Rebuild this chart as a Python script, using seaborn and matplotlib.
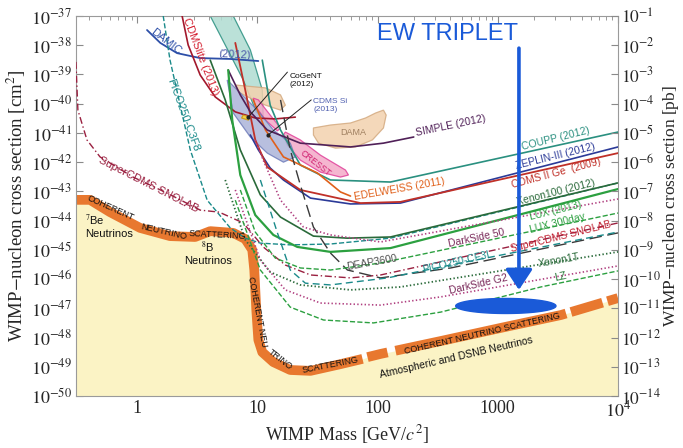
import numpy as np
import matplotlib
matplotlib.use("Agg")
import matplotlib.pyplot as plt
import seaborn as sns
from matplotlib.ticker import FixedLocator, NullLocator, LogLocator, NullFormatter

sns.set_style("ticks")
plt.rcParams['font.family'] = ['Liberation Serif', 'DejaVu Serif']
plt.rcParams['mathtext.fontset'] = 'stix'
plt.rcParams['lines.scale_dashes'] = False
SANS = ['Liberation Sans', 'DejaVu Sans']

# ---------------- data (mass in GeV, log10 of cross section in cm^2) ----------------
floor_mass = [0.31, 0.406, 0.596, 1.06, 1.88, 3.04, 4.06, 6.31, 7.94, 9.08, 9.44, 9.81, 10.2, 11.0,
              13.6, 18.8, 27.7, 49.2, 75.0, 82.5, 106, 335, 1060, 3350, 10000]
floor_logsig = [-43.29, -43.29, -43.71, -44.25, -44.53, -44.56, -44.36, -44.42, -44.63, -45.00, -45.69,
                -47.06, -48.08, -48.50, -48.84, -49.11, -49.14, -48.91, -48.73, -48.67, -48.56, -48.12,
                -47.67, -47.23, -46.65]

damic_m = [1.21, 1.56, 2.15, 3.35, 5.96, 10.2]
damic_s = [-37.48, -37.92, -38.27, -38.44, -38.47, -38.54]
cdmslite_m = [2.37, 2.66, 3.35, 4.47, 6.56, 9.62, 14.1, 20.7]
cdmslite_s = [-37.0, -37.99, -39.02, -39.77, -40.28, -40.49, -40.52, -40.46]
pico_c3f8_m = [1.65, 1.88, 2.77, 3.83, 5.96, 7.94, 10.6, 18.8, 40.6, 128, 10000]
pico_c3f8_s = [-37.0, -38.51, -41.58, -43.30, -44.25, -44.60, -44.77, -44.83, -44.80, -44.60, -42.71]
snolab_m = [0.31, 0.322, 0.383, 0.492, 0.926, 1.78, 3.35, 4.82, 7.64, 11.2, 17.1, 27.7, 59.6, 106, 10000]
snolab_s = [-38.57, -40.22, -41.24, -41.82, -42.51, -43.06, -43.64, -43.71, -44.08, -44.90, -45.52,
            -45.86, -45.96, -45.86, -44.08]
coupp_m = [11.0, 12.8, 15.6, 22.8, 40.6, 128, 10000]
coupp_s = [-38.51, -40.05, -40.90, -42.10, -42.61, -42.68, -40.97]
zeplin_m = [8.75, 10.2, 12.8, 16.5, 27.7, 59.6, 155, 10000]
zeplin_s = [-41.07, -41.58, -42.20, -42.61, -43.23, -43.43, -43.40, -41.48]
cdms2_m = [6.56, 7.94, 9.62, 12.1, 22.8, 72.2, 155, 10000]
cdms2_s = [-37.92, -39.53, -41.24, -42.17, -42.95, -43.40, -43.36, -41.69]
edel_m = [9.26, 11.7, 16.5, 31.6, 49.2, 59.6]
edel_s = [-39.87, -40.90, -41.82, -42.37, -43.02, -43.16]
simple_m = [5.73, 7.22, 8.75, 12.1, 22.8, 59.6, 112, 200]
simple_s = [-38.85, -39.70, -40.28, -40.90, -41.35, -41.48, -41.35, -41.14]
xe100_m = [4.06, 5.41, 7.22, 10.6, 15.6, 29.3, 56.2, 128, 10000]
xe100_s = [-38.51, -39.87, -41.58, -43.12, -43.88, -44.53, -44.60, -44.56, -42.71]
lux_m = [5.73, 6.19, 7.22, 9.62, 13.6, 21.5, 40.6, 128, 10000]
lux_s = [-38.85, -40.56, -42.44, -43.81, -44.49, -44.90, -45.07, -44.94, -42.92]
deap_m = [15.6, 18.8, 22.8, 29.3, 40.6, 56.2, 106, 406, 10000]
deap_s = [-39.87, -41.58, -42.78, -44.22, -45.11, -45.69, -45.96, -45.62, -44.42]
pico_cf3i_m = [10.6, 14.7, 18.8, 25.1, 40.6, 121, 492, 10000]
pico_cf3i_s = [-42.61, -44.42, -45.69, -46.14, -46.20, -45.96, -45.45, -44.39]
ds50_m = [9.62, 11.2, 15.6, 24.2, 40.6, 106, 10000]
ds50_s = [-41.24, -41.93, -43.30, -44.22, -44.49, -44.73, -43.26]
lux300_m = [7.22, 9.62, 14.1, 22.8, 40.6, 106, 10000]
lux300_s = [-42.95, -44.39, -45.28, -45.62, -45.69, -45.45, -43.74]
xe1t_m = [5.41, 7.94, 12.8, 22.8, 59.6, 155, 10000]
xe1t_s = [-42.61, -44.66, -45.76, -46.20, -46.37, -46.27, -45.07]
dsg2_m = [6.56, 10.6, 17.1, 33.5, 106, 335, 10000]
dsg2_s = [-42.95, -45.35, -46.37, -46.82, -46.89, -46.61, -45.55]
lz_m = [6.56, 10.6, 18.8, 35.5, 92.6, 335, 2280, 10000]
lz_s = [-43.30, -45.69, -46.96, -47.40, -47.50, -47.13, -46.27, -45.72]

# signal regions (closed contours)
teal_m = [4.06, 6.31, 8.75, 11.0, 11.2, 9.81, 7.64, 5.41]
teal_s = [-37.0, -37.0, -38.16, -39.53, -40.49, -40.28, -39.19, -37.99]
cdmssi_m = [5.62, 6.31, 8.75, 12.1, 16.5, 20.7, 18.8, 13.6, 10.0, 6.81]
cdmssi_s = [-39.19, -40.32, -41.14, -41.69, -42.00, -41.82, -41.35, -40.90, -40.22, -39.53]
dama1_m = [29.3, 40.6, 59.6, 79.4, 96.2, 112, 118, 112, 90.6, 65.4, 44.7, 32.3, 29.3]
dama1_s = [-40.83, -40.73, -40.66, -40.49, -40.32, -40.22, -40.39, -40.83, -41.24, -41.48, -41.52, -41.35, -41.07]
dama2_m = [6.56, 11.7, 15.6, 17.1, 15.6, 11.7, 8.75, 6.95]
dama2_s = [-39.36, -39.46, -39.70, -40.05, -40.22, -40.05, -39.81, -39.60]
cresst1_m = [17.1, 22.8, 33.5, 54.1, 57.3, 49.2, 33.5, 22.8, 17.8, 16.5]
cresst1_s = [-40.97, -41.24, -41.76, -42.27, -42.44, -42.51, -42.34, -41.93, -41.41, -41.07]
cresst2_m = [9.26, 10.2, 12.8, 15.6, 14.7, 11.7, 9.62]
cresst2_s = [-39.81, -39.87, -40.39, -40.83, -40.93, -40.56, -40.08]
cogent_m = [7.64, 8.75, 8.41, 7.40]
cogent_s = [-40.39, -40.46, -40.56, -40.49]

# EW triplet region and arrow
ew_center_mass, ew_center_logsig = 1167.0, -46.92
ew_half_decades_x, ew_half_decades_y = 0.417, 0.257
arrow_mass, arrow_top_logsig, arrow_tip_logsig = 1500.0, -38.10, -46.37

yticks_left = list(range(-50, -36))
yticks_right = list(range(-14, 0))
xticks = [1, 10, 100, 1000, 10000]
xtick_labels = ["1", "10", "100", "1000", "$10^4$"]

# ---------------- figure ----------------
fig = plt.figure(figsize=(6.83, 4.48), dpi=100)
ax = fig.add_axes([76 / 683, 1 - 396 / 448, (618 - 76) / 683, (396 - 16) / 448])
ax.set_xscale('log')
ax.set_yscale('log')
ax.set_xlim(0.3105, 1e4)
ax.set_ylim(1e-50, 1e-37)

def P(a):
    return 10.0 ** np.asarray(a, dtype=float)

YELLOW = '#fbf3c5'
ORANGE = '#e8782f'

# neutrino floor
fm = np.asarray(floor_mass)
fs = P(floor_logsig)
ax.fill_between(fm, fs, 1e-50, color=YELLOW, lw=0, zorder=1)
lo = fm <= 75.0
hi = fm >= 82.5
sns.lineplot(x=fm[lo], y=fs[lo], ax=ax, color=ORANGE, lw=7, sort=False, estimator=None,
             solid_capstyle='butt', zorder=2)
sns.lineplot(x=fm[hi], y=fs[hi], ax=ax, color=ORANGE, lw=7, sort=False, estimator=None,
             linestyle=(0, (14.8, 5.9, 125.7, 3.7, 23.7, 3.7, 20)), dash_capstyle='butt', zorder=2)

# regions
def region(m, s, fc, ec, alpha=0.85, z=2.5):
    ax.fill(m, P(s), facecolor=fc, edgecolor=ec, lw=0.9, alpha=alpha, zorder=z)

region(teal_m, teal_s, '#b0dcd2', '#2a9080')
region(dama2_m, dama2_s, '#f3d2ae', '#d4aa80')
region(dama1_m, dama1_s, '#f3d2ae', '#d4aa80')
region(cresst1_m, cresst1_s, '#f4aac8', '#e0409a')
region(cresst2_m, cresst2_s, '#f4aac8', '#e0409a')
region(cdmssi_m, cdmssi_s, '#a6afd6', '#6a78b8', alpha=0.8)
region(cogent_m, cogent_s, '#f5d54a', '#d0a020', alpha=1.0, z=3.2)

# limit curves
curves = [
    (damic_m, damic_s, '#2d4fa8', '-', 1.3),
    (cdmslite_m, cdmslite_s, '#a3182c', '-', 1.2),
    (pico_c3f8_m, pico_c3f8_s, '#1a8a8a', '--', 1.0),
    (snolab_m, snolab_s, '#9a2040', (0, (5, 2, 1, 2)), 1.0),
    (coupp_m, coupp_s, '#2a9080', '-', 1.2),
    (zeplin_m, zeplin_s, '#2b3a98', '-', 1.2),
    (cdms2_m, cdms2_s, '#c03028', '-', 1.3),
    (edel_m, edel_s, '#e0601a', '-', 1.2),
    (simple_m, simple_s, '#502058', '-', 1.2),
    (xe100_m, xe100_s, '#2a6a3a', '-', 1.2),
    (lux_m, lux_s, '#2ca040', '-', 1.6),
    (deap_m, deap_s, '#3a3a3a', (0, (9, 4)), 1.0),
    (pico_cf3i_m, pico_cf3i_s, '#1a8a8a', (0, (5, 3)), 1.0),
    (ds50_m, ds50_s, '#b04080', ':', 1.2),
    (lux300_m, lux300_s, '#2ca040', '--', 1.0),
    (xe1t_m, xe1t_s, '#2a6a3a', ':', 1.3),
    (dsg2_m, dsg2_s, '#b04080', ':', 1.2),
    (lz_m, lz_s, '#2ca040', '--', 1.0),
]
for m, s, c, ls, lw in curves:
    sns.lineplot(x=np.asarray(m), y=P(s), ax=ax, color=c, linestyle=ls, lw=lw,
                 sort=False, estimator=None, zorder=3)

# EW triplet ellipse + arrow
t = np.linspace(0, 2 * np.pi, 200)
ex = 10 ** (np.log10(ew_center_mass) + ew_half_decades_x * np.cos(t))
ey = 10 ** (ew_center_logsig + ew_half_decades_y * np.sin(t))
ax.fill(ex, ey, color='#1a5ad8', zorder=5)
ax.annotate('', xy=(arrow_mass, 10 ** arrow_tip_logsig), xytext=(arrow_mass, 10 ** arrow_top_logsig),
            arrowprops=dict(arrowstyle='-|>,head_width=0.41,head_length=0.62', lw=2.6,
                            color='#1a5ad8', mutation_scale=20, shrinkA=0, shrinkB=0), zorder=6)
ax.text(383, 10 ** -37.62, 'EW TRIPLET', color='#1a5ad8', fontsize=17, family=SANS,
        ha='center', va='center', zorder=6)

# curve labels
def lab(txt, m, ls, rot, c, fs=7.5, ha='center', va='center'):
    ax.text(m, 10 ** ls, txt, rotation=rot, color=c, fontsize=fs, family=SANS, ha=ha, va=va,
            rotation_mode='anchor', zorder=4)

lab('DAMIC', 1.75, -37.86, -38, '#2d4fa8', 8)
lab('(2012)', 6.43, -38.33, -3, '#4a58a8', 8)
lab('CDMSlite (2013)', 3.35, -38.40, -69, '#d42030', 8)
lab('PICO250-C3F8', 2.42, -40.39, -70, '#1a8a8a', 8)
lab('SuperCDMS SNOLAB', 1.235, -42.78, -27, '#9a2040', 8)
lab('CoGeNT\n(2012)', 18.5, -39.19, 0, '#111111', 6, ha='left')
lab('CDMS Si\n(2013)', 29.3, -40.05, 0, '#5060b0', 6, ha='left')
lab('DAMA', 63.1, -41.00, 0, '#a08060', 6.5)
lab('CRESST', 30.4, -42.03, -38, '#d02070', 6.5)
lab('SIMPLE (2012)', 406, -40.76, 12, '#502058', 7.5)
lab('COUPP (2012)', 3040, -41.21, 14, '#2a9080')
lab('ZEPLIN-III (2012)', 3040, -41.79, 14, '#2b3a98')
lab('CDMS II Ge  (2009)', 3040, -42.37, 15, '#c03028')
lab('Xenon100 (2012)', 3040, -43.02, 14, '#2a6a3a')
lab('LUX (2013)', 3040, -43.67, 14, '#2ca040')
lab('LUX 300day', 3162, -44.08, 14, '#2ca040')
lab('SuperCDMS SNOLAB', 3350, -44.56, 14, '#c02030')
lab('DarkSide 50', 668, -44.60, 12, '#7a2a5a')
lab('PICO250-CF3I', 447, -45.42, 13, '#1a8a8a')
lab('Xenon1T', 3224, -45.35, 10, '#2a6a3a')
lab('DarkSide G2', 695, -46.17, 13, '#7a2a5a')
lab('LZ', 3350, -45.93, 12, '#2a7a3a')
lab('DEAP3600', 89.1, -45.42, 10, '#505050')
lab('EDELWEISS (2011)', 152, -42.92, 10, '#e0601a')

# annotation lines
ax.annotate('', xy=(8.41, 10 ** -40.46), xytext=(17.8, 10 ** -38.92),
            arrowprops=dict(arrowstyle='-', lw=0.7, color='#222222', shrinkA=0, shrinkB=0), zorder=4)
ax.plot([8.41], [10 ** -40.46], 'o', ms=2, color='#222222', zorder=4)
ax.annotate('', xy=(12.3, 10 ** -41.07), xytext=(28.1, 10 ** -39.87),
            arrowprops=dict(arrowstyle='-', lw=0.7, color='#222222', shrinkA=0, shrinkB=0), zorder=4)
ax.plot([12.3], [10 ** -41.07], 'o', ms=2, color='#222222', zorder=4)

# neutrino texts
lab('$^7$Be\nNeutrinos', 0.369, -44.18, 0, '#111111', 8, ha='left')
lab('$^8$B\nNeutrinos', 3.9, -45.11, 0, '#111111', 8)
lab('COHERENT', 0.607, -43.55, -24, '#111111', 6.5)
lab('NEUTRINO', 1.65, -44.39, -13, '#111111', 6.5)
lab('SCATTERING', 4.64, -44.50, -3, '#111111', 6.5)
lab('COHERENT NEU', 10.0, -47.13, -79, '#111111', 6.5)
lab('TRINO', 15.6, -48.77, -38, '#111111', 6.5)
lab('SCATTERING', 40.6, -48.94, 11, '#111111', 6.5)
lab('COHERENT NEUTRINO SCATTERING', 736, -47.88, 13, '#111111', 6.5)
lab('Atmospheric and DSNB Neutrinos', 455, -48.67, 13, '#111111', 7.5)

# axes styling
for sp in ax.spines.values():
    sp.set_color('#9a9a9a')
    sp.set_linewidth(0.8)
ax.yaxis.set_major_locator(FixedLocator([10.0 ** k for k in yticks_left]))
ax.yaxis.set_minor_locator(NullLocator())
ax.set_yticklabels([f'$10^{{{k}}}$' for k in yticks_left])
ax.xaxis.set_major_locator(FixedLocator(xticks))
ax.set_xticklabels(xtick_labels)
ax.xaxis.set_minor_locator(LogLocator(base=10, subs=np.arange(2, 10)))
ax.xaxis.set_minor_formatter(NullFormatter())
ax.tick_params(which='both', direction='in', top=True, color='#8a8a8a', labelsize=13, pad=3)
ax.tick_params(which='major', length=5)
ax.tick_params(which='minor', length=3)
ax.set_xlabel('WIMP Mass [GeV/$c^2$]', fontsize=13, labelpad=2)
ax.set_ylabel('WIMP$-$nucleon cross section [cm$^2$]', fontsize=13.5, labelpad=2)

ax2 = ax.twinx()
ax2.set_yscale('log')
ax2.set_ylim(1e-14, 1e-1)
ax2.yaxis.set_major_locator(FixedLocator([10.0 ** k for k in yticks_right]))
ax2.yaxis.set_minor_locator(NullLocator())
ax2.set_yticklabels([f'$10^{{{k}}}$' for k in yticks_right])
ax2.tick_params(which='both', direction='in', color='#8a8a8a', labelsize=12.5, length=5, pad=2)
for sp in ax2.spines.values():
    sp.set_visible(False)
ax2.set_ylabel('WIMP$-$nucleon cross section [pb]', fontsize=12.5, labelpad=0)

fig.savefig('out.png', dpi=100)
